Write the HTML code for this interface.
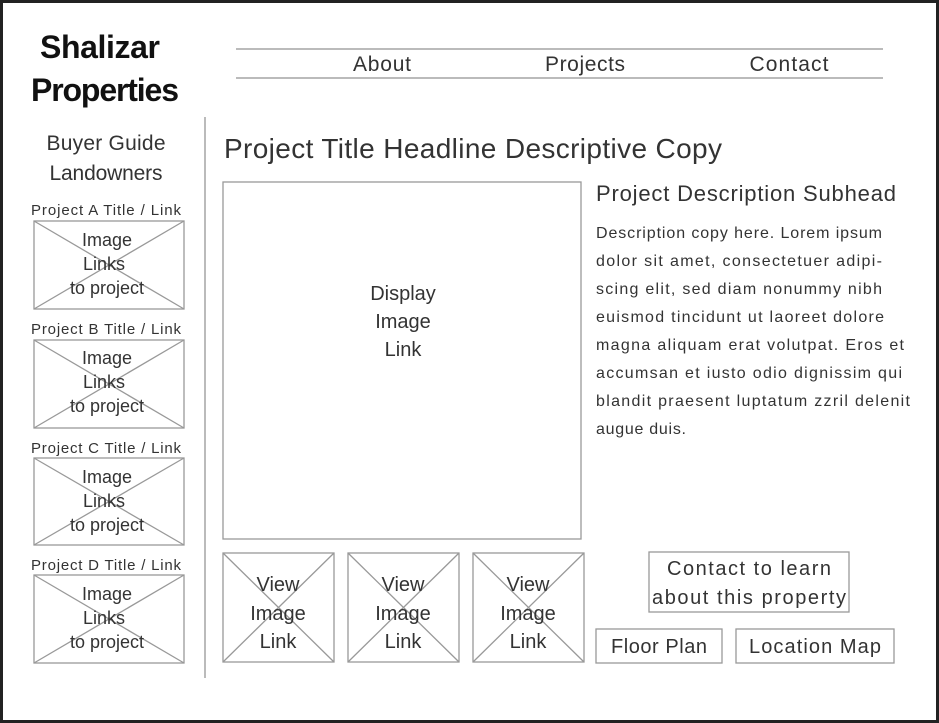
<!DOCTYPE html>
<html><head><meta charset="utf-8"><style>
html,body{margin:0;padding:0;background:#fff}
svg{display:block}
text{font-family:"Liberation Sans",sans-serif;fill:#333}
</style></head><body>
<svg width="939" height="723" viewBox="0 0 939 723" xmlns="http://www.w3.org/2000/svg">
<rect x="0" y="0" width="939" height="723" fill="#222"/>
<rect x="3" y="3" width="933" height="717" fill="#fff"/>
<text x="100" y="58" font-size="32" text-anchor="middle" font-weight="bold" style="fill:#111" textLength="120">Shalizar</text>
<text x="105" y="101" font-size="32" text-anchor="middle" font-weight="bold" style="fill:#111" textLength="148">Properties</text>
<g stroke="#bbb" stroke-width="2">
<line x1="236" y1="49" x2="883" y2="49"/>
<line x1="236" y1="78" x2="883" y2="78"/>
<line x1="205" y1="117" x2="205" y2="678"/>
</g>
<g font-size="21" text-anchor="middle">
<text x="382" y="71" textLength="58">About</text>
<text x="585" y="71" textLength="80">Projects</text>
<text x="789" y="71" textLength="79">Contact</text>
<text x="106" y="150" textLength="119">Buyer Guide</text>
<text x="106" y="180" textLength="113">Landowners</text>
</g>
<g font-size="15" text-anchor="middle">
<text x="106" y="215" textLength="150">Project A Title / Link</text>
<text x="106" y="334" textLength="150">Project B Title / Link</text>
<text x="106" y="453" textLength="150">Project C Title / Link</text>
<text x="106" y="570" textLength="150">Project D Title / Link</text>
</g>
<g stroke="#999" stroke-width="1.3" fill="none">
<rect x="34" y="221" width="150" height="88"/><line x1="34" y1="221" x2="184" y2="309"/><line x1="184" y1="221" x2="34" y2="309"/>
<rect x="34" y="340" width="150" height="88"/><line x1="34" y1="340" x2="184" y2="428"/><line x1="184" y1="340" x2="34" y2="428"/>
<rect x="34" y="458" width="150" height="87"/><line x1="34" y1="458" x2="184" y2="545"/><line x1="184" y1="458" x2="34" y2="545"/>
<rect x="34" y="575" width="150" height="88"/><line x1="34" y1="575" x2="184" y2="663"/><line x1="184" y1="575" x2="34" y2="663"/>
<rect x="223" y="182" width="358" height="357"/>
<rect x="223" y="553" width="111" height="109"/><line x1="223" y1="553" x2="334" y2="662"/><line x1="334" y1="553" x2="223" y2="662"/>
<rect x="348" y="553" width="111" height="109"/><line x1="348" y1="553" x2="459" y2="662"/><line x1="459" y1="553" x2="348" y2="662"/>
<rect x="473" y="553" width="111" height="109"/><line x1="473" y1="553" x2="584" y2="662"/><line x1="584" y1="553" x2="473" y2="662"/>
<rect x="649" y="552" width="200" height="60"/>
<rect x="596" y="629" width="126" height="34"/>
<rect x="736" y="629" width="158" height="34"/>
</g>
<g font-size="18" text-anchor="middle">
<text x="107" y="246">Image</text><text x="104" y="270">Links</text><text x="107" y="294">to project</text>
<text x="107" y="364">Image</text><text x="104" y="388">Links</text><text x="107" y="412">to project</text>
<text x="107" y="483">Image</text><text x="104" y="507">Links</text><text x="107" y="531">to project</text>
<text x="107" y="600">Image</text><text x="104" y="624">Links</text><text x="107" y="648">to project</text>
</g>
<text x="224" y="158" font-size="28" textLength="498">Project Title Headline Descriptive Copy</text>
<text x="596" y="201" font-size="22" textLength="300">Project Description Subhead</text>
<g font-size="20" text-anchor="middle">
<text x="403" y="300">Display</text><text x="403" y="328">Image</text><text x="403" y="356">Link</text>
<text x="278" y="591">View</text><text x="278" y="620">Image</text><text x="278" y="648">Link</text>
<text x="403" y="591">View</text><text x="403" y="620">Image</text><text x="403" y="648">Link</text>
<text x="528" y="591">View</text><text x="528" y="620">Image</text><text x="528" y="648">Link</text>
<text x="749" y="575" textLength="164">Contact to learn</text>
<text x="749" y="604" textLength="194">about this property</text>
<text x="659" y="653" textLength="96">Floor Plan</text>
<text x="815" y="653" textLength="132">Location Map</text>
</g>
<g font-size="16">
<text x="596" y="238" textLength="286">Description copy here. Lorem ipsum</text>
<text x="596" y="266" textLength="286">dolor sit amet, consectetuer adipi-</text>
<text x="596" y="294" textLength="286">scing elit, sed diam nonummy nibh</text>
<text x="596" y="322" textLength="288">euismod tincidunt ut laoreet dolore</text>
<text x="596" y="350" textLength="308">magna aliquam erat volutpat. Eros et</text>
<text x="596" y="378" textLength="306">accumsan et iusto odio dignissim qui</text>
<text x="596" y="406" textLength="314">blandit praesent luptatum zzril delenit</text>
<text x="596" y="434" textLength="90">augue duis.</text>
</g>
</svg>
</body></html>
